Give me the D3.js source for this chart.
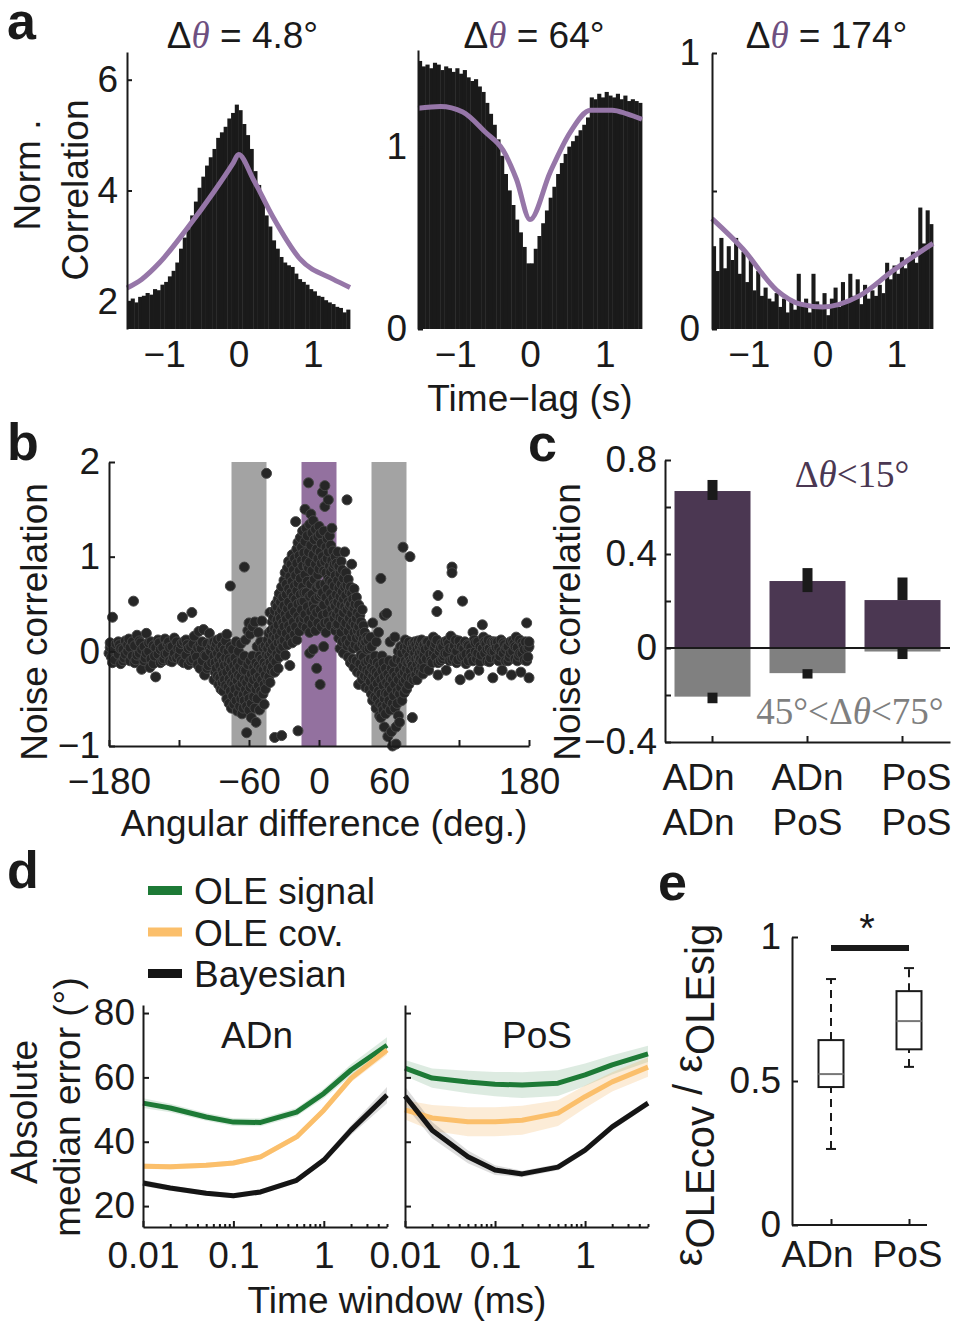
<!DOCTYPE html>
<html>
<head>
<meta charset="utf-8">
<script src="https://cdn.jsdelivr.net/npm/d3@7"></script>
<style>
  body { margin: 0; background: #fff; }
</style>
</head>
<body>
<svg id="fig"></svg>
<script>
// ---------- data ----------

// a: cross-correlograms, 60 bins of 0.05 s between -1.5 and 1.5 s
const ccg48 = [2.00, 2.05, 1.98, 2.08, 2.10, 2.15, 2.12, 2.22, 2.20, 2.30,
  2.35, 2.45, 2.55, 2.70, 2.95, 3.15, 3.30, 3.55, 3.80, 4.05,
  4.25, 4.45, 4.60, 4.75, 4.95, 5.05, 5.15, 5.30, 5.40, 5.55,
  5.45, 5.20, 5.00, 4.75, 4.35, 4.10, 3.85, 3.55, 3.35, 3.10,
  2.95, 2.80, 2.70, 2.65, 2.62, 2.50, 2.40, 2.35, 2.30, 2.22,
  2.18, 2.10, 2.08, 2.02, 1.98, 1.95, 1.90, 1.88, 1.80, 1.85]
const ccg64 = [1.47, 1.44, 1.45, 1.43, 1.46, 1.45, 1.42, 1.44, 1.43, 1.41,
  1.43, 1.40, 1.42, 1.38, 1.36, 1.37, 1.33, 1.30, 1.24, 1.18,
  1.12, 1.04, 0.95, 0.85, 0.76, 0.68, 0.60, 0.53, 0.45, 0.36,
  0.36, 0.44, 0.51, 0.58, 0.65, 0.72, 0.78, 0.85, 0.91, 0.96,
  1.00, 1.03, 1.06, 1.09, 1.12, 1.16, 1.27, 1.26, 1.29, 1.27,
  1.30, 1.28, 1.27, 1.29, 1.26, 1.28, 1.25, 1.26, 1.25, 1.24]
const ccg174 = [0.30, 0.21, 0.33, 0.22, 0.30, 0.25, 0.33, 0.20, 0.28, 0.17,
  0.26, 0.14, 0.21, 0.12, 0.15, 0.11, 0.10, 0.13, 0.08, 0.11,
  0.06, 0.10, 0.07, 0.20, 0.09, 0.11, 0.06, 0.20, 0.10, 0.08,
  0.13, 0.05, 0.11, 0.15, 0.08, 0.17, 0.10, 0.20, 0.12, 0.18,
  0.09, 0.16, 0.11, 0.14, 0.12, 0.16, 0.13, 0.24, 0.18, 0.23,
  0.20, 0.26, 0.22, 0.25, 0.28, 0.24, 0.44, 0.31, 0.43, 0.38]
const fit48 = [[-1.5, 2.24], [-1.3, 2.4], [-1.06, 2.7], [-0.7, 3.3], [-0.34, 3.96], [-0.07, 4.5],
  [0, 4.65], [0.2, 4.2], [0.46, 3.53], [0.83, 2.76], [1.27, 2.4], [1.5, 2.25]]
const fit64 = [[-1.5, 1.21], [-1.2, 1.22], [-0.9, 1.19], [-0.6, 1.08], [-0.36, 0.98], [-0.18, 0.82],
  [0, 0.6], [0.27, 0.86], [0.54, 1.08], [0.81, 1.2], [1.1, 1.2], [1.3, 1.18], [1.5, 1.15]]
const fit174 = [[-1.5, 0.40], [-1.08, 0.29], [-0.62, 0.14], [-0.3, 0.09], [0, 0.08],
  [0.5, 0.12], [0.95, 0.21], [1.5, 0.31]]
const ccgTitles = ["4.8°", "64°", "174°"]

// b: noise correlation of cell pairs, grouped by angular difference [deg, values]
const noiseCorrByAngle = [
  [-180,[-0.02]],[-179,[0.04,0.09]],[-178,[-0.06]],[-177,[0.36,-0.12]],[-176,[0.01]],[-175,[-0.09,0.02]],
  [-174,[0.08]],[-172,[-0.03,0.1]],[-171,[0.07]],[-170,[-0.13,0.03]],[-168,[0.02,-0.1]],[-167,[-0.07]],
  [-166,[0.11,-0.03]],[-164,[0.0,0.07]],[-163,[0.13]],[-162,[-0.1,0.04]],[-160,[-0.05,0.1]],[-159,[0.53]],
  [-158,[0.06,-0.12]],[-157,[-0.09]],[-156,[0.17,-0.04]],[-154,[-0.02,0.11]],[-153,[0.09]],[-152,[-0.19,0.02]],
  [-150,[0.05,-0.1]],[-149,[-0.07]],[-148,[0.19,-0.02]],[-146,[0.0,0.09]],[-145,[-0.17]],[-144,[0.1,-0.08]],
  [-142,[0.06,-0.13]],[-141,[-0.05]],[-140,[-0.27,0.04]],[-138,[-0.03,0.12]],[-137,[0.09]],[-136,[-0.12,0.02]],
  [-134,[0.04,-0.1]],[-133,[-0.08]],[-132,[0.13,-0.03]],[-130,[-0.02,0.08]],[-129,[0.1]],[-128,[-0.1,0.04]],
  [-126,[0.05,-0.11]],[-125,[-0.06]],[-124,[0.14,-0.02]],[-122,[-0.07,0.1]],[-121,[0.03]],[-120,[-0.05]],
  [-119,[0.02]],[-118,[-0.1,0.08]],[-117,[0.36]],[-116,[0.1,-0.12]],[-114,[-0.04,0.12]],[-113,[0.07]],
  [-112,[-0.14,0.03]],[-110,[0.05,-0.1]],[-109,[0.41]],[-108,[-0.08,0.08]],[-107,[0.16]],[-106,[-0.02]],
  [-105,[-0.06]],[-104,[0.04,-0.14]],[-103,[0.21]],[-102,[-0.18,0.07]],[-101,[0.03]],[-100,[-0.1,0.1]],
  [-99,[0.23]],[-98,[-0.25,-0.04]],[-97,[-0.05]],[-96,[0.08,-0.18]],[-95,[-0.15]],[-94,[0.19,0.02]],
  [-93,[0.0]],[-92,[-0.12,0.06]],[-91,[0.1]],
  [-90,[-0.3,-0.05,0.1]],[-89,[-0.12,0.04,-0.22]],[-88,[0.08,-0.18]],[-87,[-0.26,-0.02,0.12]],
  [-86,[-0.35,-0.09]],[-85,[-0.15,0.03,-0.28]],[-84,[-0.05,-0.4,0.14]],[-83,[-0.2,0.06,-0.33]],
  [-82,[-0.1,-0.42,-0.24]],[-81,[0.02,-0.3,-0.15]],[-80,[-0.36,-0.07,0.11]],[-79,[-0.22,-0.5,0.18]],
  [-78,[-0.13,-0.38,0.0]],[-77,[-0.29,-0.55,-0.08]],[-76,[0.69,-0.42,-0.18,0.05]],[-75,[-0.33,-0.1,-0.6]],
  [-74,[-0.24,-0.47,0.02]],[-73,[-0.15,-0.56,-0.35]],[-72,[-0.4,-0.07,-0.28]],[-71,[-0.52,-0.2,0.1]],
  [-70,[-0.31,-0.63,-0.12]],[-69,[-0.45,-0.25,0.0]],[-68,[-0.58,-0.16,-0.37]],[-67,[-0.27,-0.5,0.08]],
  [-66,[-0.66,-0.34,-0.1]],[-65,[-0.2,-0.46,-0.6]],[-64,[0.89,-0.3,-0.05,-0.52]],[-63,[-0.4,0.12,-0.2]],
  [-62,[-0.86,-0.33,-0.58]],[-61,[-0.14,-0.45,0.22]],[-60,[-0.28,0.3,-0.62,-0.5]],[-59,[-0.38,-0.1,0.18]],
  [-58,[-0.55,-0.24,-0.7]],[-57,[0.26,-0.35,-0.05]],[-56,[-0.48,-0.17,-0.3]],[-55,[0.31,-0.6,-0.22]],
  [-54,[-0.75,-0.12,-0.4]],[-53,[-0.28,0.05,-0.5]],[-52,[-0.36,0.2,-0.15]],[-51,[-0.62,-0.05,-0.26]],
  [-50,[-0.42,0.1,-0.18]],[-49,[0.32,-0.3,-0.08]],[-48,[-0.45,-0.2,0.04]],[-47,[-0.12,-0.35,-0.56]],
  [-46,[0.06,-0.25,-0.4]],[-45,[1.88,-0.15,-0.03]],
  [-44,[0.12,-0.31,0.03,-0.18]],[-43,[-0.05,0.19,-0.27]],[-42,[0.41,0.07,-0.12,-0.33]],[-41,[0.22,-0.02,-0.2]],
  [-40,[0.31,0.11,-0.16,0.02]],[-39,[-0.08,0.36,0.17]],[-38,[0.05,-0.91,0.43,-0.22,0.24]],[-37,[0.14,0.5,-0.11]],
  [-36,[0.33,-0.03,0.21,0.47]],[-35,[0.55,0.09,-0.18,0.28]],[-34,[0.4,0.16,0.61,-0.06]],[-33,[0.02,0.35,0.52]],
  [-32,[0.68,0.21,-0.89,0.44,0.1]],[-31,[0.3,0.57,0.05]],[-30,[0.75,0.12,0.48,0.26]],[-29,[0.39,0.83,-0.04]],
  [-28,[0.6,0.19,0.71,0.34]],[-27,[0.07,0.88,0.45]],[-26,[0.52,0.27,0.95,0.66]],[-25,[0.14,0.79,0.38,-0.15]],
  [-24,[0.62,0.92,0.23]],[-23,[0.47,1.02,0.09,0.74]],[-22,[0.31,0.58,0.86]],[-21,[0.98,0.18,0.69,0.42]],
  [-20,[1.37,0.55,0.8,0.26]],[-19,[0.12,0.93,0.64,1.08]],[-18,[-0.84,0.37,0.72,0.5,1.15]],[-17,[0.85,0.21,1.01]],
  [-16,[0.6,0.33,1.2,0.77]],[-15,[0.96,0.52,0.44,1.1]],[-14,[0.68,1.27,0.28,0.9]],[-13,[0.53,1.04,0.62,0.35]],
  [-12,[1.5,0.81,0.39,1.16]],[-11,[0.62,0.97,0.25,1.3]],[-10,[0.47,1.22,0.74,0.9]],[-9,[1.78,0.88,0.33,1.05]],
  [-8,[0.58,1.34,0.2,0.94,-0.02]],[-7,[1.45,0.71,0.42,1.12]],[-6,[0.29,0.85,1.25,0.6]],[-5,[1.02,0.5,0.02,1.38]],
  [-4,[0.76,0.45,1.18,0.36]],[-3,[0.92,0.55,1.29,0.22]],[-2,[0.41,1.08,0.67,-0.18]],[-1,[1.21,0.81,0.3,0.98]],
  [0,[0.58,1.32,0.7,0.87]],[1,[1.05,0.44,0.7,1.24,-0.35]],[2,[0.6,0.93,0.26,1.14]],[3,[1.68,0.62,1.0,0.38]],
  [4,[0.85,1.27,0.49,0.05]],[5,[1.53,1.75,0.71,0.95,0.3]],[6,[1.1,0.57,0.83,0.2]],[7,[0.4,1.19,0.66,0.98]],
  [8,[1.6,0.77,0.31,1.05]],[9,[0.52,0.9,1.22,0.75]],[10,[0.84,0.27,1.12,0.61]],[11,[1.3,0.45,0.73,0.96]],
  [12,[0.38,0.88,0.56,1.06]],[13,[0.69,0.5,0.92,0.35]],[14,[1.0,0.48,0.22,0.8]],[15,[0.6,0.93,0.28,0.39]],
  [16,[0.75,1.05,0.29,0.52]],[17,[0.14,0.67,0.9,0.43]],[18,[0.82,0.36,0.58,0.03]],[19,[0.49,0.95,0.2,0.71]],
  [20,[0.63,0.1,0.86,0.34]],[21,[0.41,0.77,-0.02,0.55]],[22,[1.05,0.26,0.68,0.47]],[23,[0.12,0.59,0.83,0.3]],
  [24,[1.6,0.44,0.7,0.06]],[25,[0.52,0.21,0.76,-0.06]],[26,[0.35,0.63,0.09,0.48]],[27,[0.68,-0.12,0.27,0.5]],
  [28,[0.92,0.4,0.15,0.61]],[29,[0.03,0.55,0.31,-0.08]],[30,[0.46,0.2,0.66,-0.17]],[31,[0.28,0.5,0.07]],
  [32,[0.57,-0.1,0.35,0.14]],[33,[0.22,-0.22,0.41]],[34,[0.49,0.04,-0.35,0.26]],[35,[0.16,0.38,-0.13]],
  [36,[0.31,-0.04,0.19,-0.24]],[37,[0.44,0.08,-0.3]],[38,[0.13,-0.17,0.27,-0.06]],[39,[-0.26,0.05,0.2]],
  [40,[-0.38,0.1,-0.12]],[41,[0.02,-0.2,0.15]],
  [42,[-0.1,0.12,-0.28]],[43,[-0.22,0.03,-0.4]],[44,[0.15,-0.32,-0.08]],[45,[-0.45,-0.17,0.05]],
  [46,[-0.26,0.3,-0.52]],[47,[-0.1,-0.38,-0.2]],[48,[-0.48,-0.05,-0.3]],[49,[-0.6,-0.22,0.1]],
  [50,[-0.34,-0.12,-0.5]],[51,[0.2,-0.42,-0.25]],[52,[-0.55,-0.15,-0.68]],[53,[0.77,-0.3,-0.7,-0.45]],
  [54,[-0.2,-0.58,-0.05]],[55,[-0.36,-0.62,-0.12]],[56,[0.38,-0.8,-0.27,-0.5]],[57,[-0.44,-0.18,-0.66]],
  [58,[0.4,-0.33,-0.57]],[59,[-0.9,-0.24,-0.45]],[60,[-0.52,-0.1,-0.36]],[61,[0.1,-0.62,-0.28]],
  [62,[-0.85,-0.4,-0.18]],[63,[-1.0,-0.3,-0.55]],[64,[-0.12,-0.47,-0.22]],[65,[0.15,-0.6,-0.35]],
  [66,[-0.98,-0.26,-0.8]],[67,[-0.42,-0.08,-0.55]],[68,[-0.3,-0.68,0.0]],[69,[-0.75,-0.2,-0.45]],
  [70,[-0.1,-0.38,0.05]],[71,[-0.52,-0.25,-0.02]],[72,[1.1,-0.15,-0.33]],[73,[-0.44,0.04,-0.22]],
  [74,[-0.1,-0.3,0.12]],[75,[-0.4,-0.18,0.0]],[76,[-0.26,0.06,-0.12]],[77,[-0.35,-0.05,0.1]],
  [78,[1.0,-0.2,-0.1]],[79,[-0.28,0.02,-0.12]],[80,[-0.7,-0.15,0.08]],[81,[-0.06,-0.3,0.04]],
  [82,[-0.18,0.1,-0.02]],[83,[-0.25,-0.08,0.07]],[84,[0.02,-0.14,-0.3]],[85,[0.11,-0.06,-0.2]],
  [86,[-0.1,0.05,-0.02]],[87,[-0.22,0.09,-0.08]],[88,[0.0,-0.16,0.12]],[89,[-0.1,0.04,-0.24]],
  [90,[0.07,-0.18,-0.04]],
  [91,[0.02]],[92,[-0.08,0.1]],[93,[0.1]],[94,[-0.2,0.04]],[95,[-0.03]],[96,[0.08,-0.1]],[97,[-0.12]],
  [98,[0.15,-0.02]],[99,[0.04]],[100,[-0.06,0.08]],[101,[0.42,0.12]],[102,[0.59,-0.25,-0.12]],[103,[0.0]],
  [104,[-0.1,0.04]],[105,[0.08]],[106,[0.05,-0.08]],[107,[-0.05]],[108,[0.1,-0.02]],[109,[-0.2]],
  [110,[-0.02,0.11]],[111,[0.08]],[112,[-0.1,0.03]],[113,[0.16]],[114,[0.89,0.83,-0.09]],[115,[0.03]],
  [116,[-0.07,0.06]],[117,[0.12]],[118,[0.0,-0.12]],[119,[-0.09]],[120,[0.06,0.11]],[121,[-0.3]],
  [122,[0.05,-0.06]],[123,[0.53]],[124,[-0.05,0.03]],[125,[0.1]],[126,[-0.03,-0.13]],[127,[0.07]],
  [128,[-0.1,0.06]],[129,[-0.25]],[130,[0.04,-0.02]],[131,[-0.06]],[132,[0.2,-0.1]],[133,[0.12]],
  [134,[0.0,0.09]],[135,[-0.08]],[136,[0.1,-0.02]],[137,[-0.2]],[138,[0.05,-0.11]],[139,[-0.04]],
  [140,[0.28,0.03]],[141,[0.15]],[142,[-0.02,0.1]],[143,[0.08]],[144,[-0.1,0.02]],[145,[0.12]],
  [146,[0.03,-0.11]],[147,[-0.07]],[148,[0.1,0.0]],[149,[-0.28]],[150,[0.0,0.1]],[151,[0.09]],
  [152,[-0.08,0.04]],[153,[0.1]],[154,[0.04,-0.1]],[155,[-0.05]],[156,[0.12,0.0]],[157,[-0.2]],
  [158,[-0.02,0.09]],[159,[0.07]],[160,[-0.1,0.02]],[161,[0.05]],[162,[0.05,-0.1]],[163,[-0.06]],
  [164,[0.1,-0.02]],[165,[-0.25]],[166,[0.0,0.11]],[167,[0.08]],[168,[-0.08,0.05]],[169,[0.15]],
  [170,[0.04,-0.1]],[171,[-0.05]],[172,[0.12,-0.02]],[173,[-0.22]],[174,[-0.02,0.09]],[175,[0.06]],
  [176,[-0.09,0.02]],[177,[0.1]],[178,[0.3,-0.1]],[179,[0.03,-0.06]],[180,[0.05,-0.28,0.1]]
]
const nearBand = [-15, 15]
const farBands = [[-75, -45], [45, 75]]

// c: mean noise correlation per pair type
const pairTop = ["ADn", "ADn", "PoS"]
const pairBottom = ["ADn", "PoS", "PoS"]
const nearMean = [0.668, 0.285, 0.204]
const nearErr = [[0.63, 0.715], [0.238, 0.34], [0.204, 0.30]]
const farMean = [-0.207, -0.107, -0.015]
const farErr = [[-0.235, -0.19], [-0.13, -0.09], [-0.047, 0.0]]

// d: decoding error vs time window
const windows = [0.01, 0.02, 0.05, 0.1, 0.2, 0.5, 1, 2, 5]
const adnSignal = [52.0, 50.5, 47.7, 46.1, 46.0, 49.2, 55.0, 62.3, 70.0]
const adnSignalSem = [1.5, 1.3, 1.2, 1.2, 1.2, 1.3, 1.5, 1.8, 2.5]
const adnCov = [32.4, 32.2, 32.7, 33.4, 35.3, 41.5, 49.8, 59.7, 68.5]
const adnCovSem = [0.8, 0.8, 0.8, 0.8, 0.8, 0.8, 1.0, 1.2, 1.5]
const adnBayes = [27.2, 25.6, 24.0, 23.2, 24.4, 28.0, 34.3, 43.6, 54.5]
const adnBayesSem = [1.0, 0.8, 0.8, 0.8, 0.8, 0.8, 1.0, 1.5, 2.5]
const posSignal = [62.9, 59.8, 58.6, 57.9, 57.6, 58.2, 60.8, 63.9, 67.3]
const posSignalSem = [2.5, 3.0, 3.5, 3.8, 4.0, 4.0, 3.5, 3.0, 2.5]
const posCov = [49.9, 47.4, 46.2, 46.2, 46.7, 48.9, 54.0, 58.6, 63.2]
const posCovSem = [3.0, 4.0, 4.5, 4.5, 4.5, 4.0, 3.5, 3.0, 3.0]
const posBayes = [54.2, 43.6, 35.3, 31.2, 30.0, 32.1, 37.4, 44.6, 52.0]
const posBayesSem = [3.0, 2.5, 2.0, 1.5, 1.0, 1.0, 1.0, 1.0, 1.0]
const decoderNames = ["OLE signal", "OLE cov.", "Bayesian"]

// e: error ratio boxplots [whisker lo, q1, median, q3, whisker hi]
const ratioCats = ["ADn", "PoS"]
const adnRatio = [0.264, 0.479, 0.524, 0.642, 0.854]
const posRatio = [0.549, 0.61, 0.708, 0.812, 0.892]

// ---------- drawing ----------

const width = 960
const height = 1321
const FS = 37
const ink = "#1a1a1a"
const sans = "'Liberation Sans', Arial, sans-serif"
const serif = "'Liberation Serif', 'Times New Roman', serif"
const fitPurple = "#9676a8"
const colors = ["#1d7a36", "#fbbf6b", "#151515"]
const fmt = d3.format("")

const svg = d3.select("#fig")
    .attr("width", width)
    .attr("height", height)
    .style("font-family", sans)
svg.append("rect")
    .attr("width", width)
    .attr("height", height)
    .attr("fill", "#fff")

function styleAxis(g, noDomain) {
  g.attr("font-size", FS).attr("font-family", sans)
  g.selectAll(".domain").attr("stroke", ink).attr("stroke-width", 2)
  if (noDomain) g.select(".domain").remove()
  g.selectAll(".tick line").attr("stroke", ink).attr("stroke-width", 2)
  g.selectAll(".tick text").attr("fill", ink)
}

function vLabel(x, y, str, size) {
  return svg.append("text")
      .attr("transform", `translate(${x},${y}) rotate(-90)`)
      .attr("text-anchor", "middle")
      .attr("font-size", size || FS)
      .attr("fill", ink)
      .text(str)
}

function hLabel(x, y, str) {
  return svg.append("text")
      .attr("x", x).attr("y", y)
      .attr("text-anchor", "middle")
      .attr("font-size", FS)
      .attr("fill", ink)
      .text(str)
}

function panelLetter(letter, x, y) {
  svg.append("text")
      .attr("x", x).attr("y", y)
      .attr("font-size", 52)
      .attr("font-weight", "bold")
      .attr("fill", ink)
      .text(letter)
}

// ----- a -----
panelLetter("a", 7, 39)
const lagEdges = d3.range(60).map(i => -1.5 + i * 0.05)
const ccgPanels = [
  {bars: ccg48, fit: fit48, yDomain: [1.5, 6.5], yTicks: [2, 4, 6], left: 127, right: 350, top: 52, pad: 9},
  {bars: ccg64, fit: fit64, yDomain: [0, 1.53], yTicks: [0, 1], left: 418, right: 642, top: 50, pad: 11},
  {bars: ccg174, fit: fit174, yDomain: [0, 1], yTicks: [0, 0.5, 1], left: 712, right: 933, top: 53, pad: 12},
]
const aBottom = 329

ccgPanels.forEach((p, k) => {
  const xScale = d3.scaleLinear().domain([-1.5, 1.5]).range([p.left, p.right])
  const yScale = d3.scaleLinear().domain(p.yDomain).range([aBottom, p.top])
  const g = svg.append("g")
  const binW = xScale(lagEdges[1]) - xScale(lagEdges[0])

  g.selectAll("rect")
    .data(p.bars)
    .join("rect")
      .attr("x", (d, i) => xScale(lagEdges[i]))
      .attr("width", binW + 0.4)
      .attr("y", d => yScale(d))
      .attr("height", d => yScale(p.yDomain[0]) - yScale(d))
      .attr("fill", ink)

  const line = d3.line()
      .x(d => xScale(d[0]))
      .y(d => yScale(d[1]))
      .curve(d3.curveMonotoneX)
  g.append("path")
      .attr("d", line(p.fit))
      .attr("fill", "none")
      .attr("stroke", fitPurple)
      .attr("stroke-width", 5)

  const yAxis = g.append("g")
      .attr("transform", `translate(${p.left},0)`)
      .call(d3.axisLeft(yScale).tickValues(p.yTicks).tickSize(-5).tickSizeOuter(0)
        .tickPadding(p.pad).tickFormat(d => d === 0.5 ? "" : fmt(d)))
  styleAxis(yAxis)

  const xAxis = g.append("g")
      .attr("transform", `translate(0,${aBottom})`)
      .call(d3.axisBottom(xScale).tickValues([-1, 0, 1]).tickSize(0).tickPadding(12).tickFormat(fmt))
  styleAxis(xAxis, true)

  const title = svg.append("text")
      .attr("x", (p.left + p.right) / 2 + 4)
      .attr("y", 48)
      .attr("text-anchor", "middle")
      .attr("font-size", FS)
      .attr("fill", ink)
  title.append("tspan").text("Δ")
  title.append("tspan")
      .attr("font-family", serif)
      .attr("font-style", "italic")
      .attr("fill", "#6e4f80")
      .text("θ")
  title.append("tspan").text(" = " + ccgTitles[k])
})
vLabel(40, 175, "Norm .")
vLabel(88, 190, "Correlation")
hLabel(530, 411, "Time−lag (s)")

// ----- b -----
panelLetter("b", 7, 460)
const noiseCorr = noiseCorrByAngle.flatMap(([deg, vals]) => vals.map(v => [deg, v]))
const bx = d3.scaleLinear().domain([-180, 180]).range([109, 529])
const by = d3.scaleLinear().domain([-1, 2]).range([746, 462])
const bBounds = svg.append("g")

bBounds.selectAll("rect.far")
  .data(farBands)
  .join("rect")
    .attr("x", d => bx(d[0]))
    .attr("width", d => bx(d[1]) - bx(d[0]))
    .attr("y", by(2))
    .attr("height", by(-1) - by(2))
    .attr("fill", "#a3a3a3")
bBounds.append("rect")
    .attr("x", bx(nearBand[0]))
    .attr("width", bx(nearBand[1]) - bx(nearBand[0]))
    .attr("y", by(2))
    .attr("height", by(-1) - by(2))
    .attr("fill", "#93719f")

bBounds.selectAll("circle")
  .data(noiseCorr)
  .join("circle")
    .attr("cx", d => bx(d[0]))
    .attr("cy", d => by(d[1]))
    .attr("r", 5)
    .attr("fill", "#262626")
    .attr("stroke", "#454545")
    .attr("stroke-width", 1)

const bxAxis = bBounds.append("g")
    .attr("transform", `translate(0,${by(-1)})`)
    .call(d3.axisBottom(bx).tickValues([-180, -120, -60, 0, 60, 120, 180]).tickSize(-6)
      .tickSizeOuter(0).tickPadding(22).tickFormat(d => Math.abs(d) === 120 ? "" : fmt(d)))
styleAxis(bxAxis)
const byAxis = bBounds.append("g")
    .attr("transform", `translate(${bx(-180)},0)`)
    .call(d3.axisLeft(by).tickValues([-1, 0, 1, 2]).tickSize(-6).tickSizeOuter(0)
      .tickPadding(9).tickFormat(fmt))
styleAxis(byAxis)
vLabel(47, 622, "Noise correlation")
hLabel(324, 836, "Angular difference (deg.)")

// ----- c -----
panelLetter("c", 528, 461)
const cx = d3.scaleBand().domain(d3.range(3)).range([665, 950]).paddingInner(0.2).paddingOuter(0.1)
const cy = d3.scaleLinear().domain([-0.4, 0.8]).range([742, 460])
const cBounds = svg.append("g")

cBounds.selectAll("rect.far")
  .data(farMean)
  .join("rect")
    .attr("x", (d, i) => cx(i))
    .attr("width", cx.bandwidth())
    .attr("y", cy(0))
    .attr("height", d => cy(d) - cy(0))
    .attr("fill", "#808080")
cBounds.selectAll("rect.near")
  .data(nearMean)
  .join("rect")
    .attr("x", (d, i) => cx(i))
    .attr("width", cx.bandwidth())
    .attr("y", d => cy(d))
    .attr("height", d => cy(0) - cy(d))
    .attr("fill", "#4b3752")
cBounds.selectAll("rect.err")
  .data(nearErr.concat(farErr))
  .join("rect")
    .attr("x", (d, i) => cx(i % 3) + cx.bandwidth() / 2 - 5)
    .attr("width", 10)
    .attr("y", d => cy(d[1]))
    .attr("height", d => cy(d[0]) - cy(d[1]))
    .attr("fill", ink)
cBounds.append("line")
    .attr("x1", 665).attr("x2", 950)
    .attr("y1", cy(0)).attr("y2", cy(0))
    .attr("stroke", ink).attr("stroke-width", 2)

const cxAxis = cBounds.append("g")
    .attr("transform", `translate(0,${cy(-0.4)})`)
    .call(d3.axisBottom(cx).tickSize(-6).tickSizeOuter(0).tickFormat(""))
styleAxis(cxAxis)
const cyAxis = cBounds.append("g")
    .attr("transform", "translate(665,0)")
    .call(d3.axisLeft(cy).tickValues([-0.4, -0.2, 0, 0.2, 0.4, 0.6, 0.8]).tickSize(-6)
      .tickSizeOuter(0).tickPadding(8)
      .tickFormat(d => Math.abs(d * 10) % 4 > 0.01 ? "" : fmt(d)))
styleAxis(cyAxis)
const catShift = [-14, 0, 14]
;[pairTop, pairBottom].forEach((row, r) => {
  cBounds.selectAll(null)
    .data(row)
    .join("text")
      .attr("x", (d, i) => cx(i) + cx.bandwidth() / 2 + catShift[i])
      .attr("y", 790 + r * 45)
      .attr("text-anchor", "middle")
      .attr("font-size", FS)
      .attr("fill", ink)
      .text(d => d)
})
vLabel(580, 622, "Noise correlation")

const nearText = svg.append("text")
    .attr("x", 852).attr("y", 487)
    .attr("text-anchor", "middle")
    .attr("font-family", serif)
    .attr("font-size", FS)
    .attr("fill", "#4b3752")
nearText.append("tspan").text("Δ")
nearText.append("tspan").attr("font-style", "italic").text("θ")
nearText.append("tspan").text("<15°")
const farText = svg.append("text")
    .attr("x", 850).attr("y", 724)
    .attr("text-anchor", "middle")
    .attr("font-family", serif)
    .attr("font-size", FS)
    .attr("fill", "#7f7f7f")
farText.append("tspan").text("45°<Δ")
farText.append("tspan").attr("font-style", "italic").text("θ")
farText.append("tspan").text("<75°")

// ----- d -----
panelLetter("d", 7, 888)
const dy = d3.scaleLinear().domain([13.5, 82.5]).range([1227, 1005])
const dPanels = [
  {name: "ADn", left: 143, right: 387,
   series: [[adnSignal, adnSignalSem], [adnCov, adnCovSem], [adnBayes, adnBayesSem]]},
  {name: "PoS", left: 405, right: 648,
   series: [[posSignal, posSignalSem], [posCov, posCovSem], [posBayes, posBayesSem]]},
]
const bandOpacity = [0.15, 0.25, 0.2]
const bandColor = ["#1d7a36", "#f2b35e", "#555"]

dPanels.forEach((p, k) => {
  const dx = d3.scaleLog().domain([0.01, 5]).range([p.left, p.right])
  const g = svg.append("g")

  p.series.forEach(([mean, sem], s) => {
    const area = d3.area()
        .x((d, i) => dx(windows[i]))
        .y0((d, i) => dy(d - sem[i]))
        .y1((d, i) => dy(d + sem[i]))
    g.append("path")
        .attr("d", area(mean))
        .attr("fill", bandColor[s])
        .attr("fill-opacity", bandOpacity[s])
  })
  p.series.forEach(([mean], s) => {
    const line = d3.line()
        .x((d, i) => dx(windows[i]))
        .y(d => dy(d))
    g.append("path")
        .attr("d", line(mean))
        .attr("fill", "none")
        .attr("stroke", colors[s])
        .attr("stroke-width", 5)
        .attr("stroke-linejoin", "round")
  })

  const xMajor = g.append("g")
      .attr("transform", `translate(0,${dy.range()[0]})`)
      .call(d3.axisBottom(dx).tickValues([0.01, 0.1, 1]).tickSize(-6).tickSizeOuter(0)
        .tickPadding(15).tickFormat(fmt))
  styleAxis(xMajor)
  const xMinor = g.append("g")
      .attr("transform", `translate(0,${dy.range()[0]})`)
      .call(d3.axisBottom(dx).tickValues([0.02, 0.03, 0.04, 0.05, 0.06, 0.07, 0.08, 0.09,
        0.2, 0.3, 0.4, 0.5, 0.6, 0.7, 0.8, 0.9, 2, 3, 4, 5]).tickSize(-3).tickSizeOuter(0).tickFormat(""))
  styleAxis(xMinor, true)
  const yAxis = g.append("g")
      .attr("transform", `translate(${p.left},0)`)
      .call(d3.axisLeft(dy).tickValues([20, 40, 60, 80]).tickSize(-6).tickSizeOuter(0)
        .tickPadding(8).tickFormat(k === 0 ? fmt : ""))
  styleAxis(yAxis)

  hLabel(k === 0 ? 257 : 537, 1048, p.name)
})
vLabel(37, 1112, "Absolute")
vLabel(80, 1107, "median error (°)")
hLabel(397, 1313, "Time window (ms)")

const legend = svg.append("g")
legend.selectAll("rect")
  .data(decoderNames)
  .join("rect")
    .attr("x", 148).attr("width", 34)
    .attr("y", (d, i) => 886 + i * 41.5)
    .attr("height", 9)
    .attr("fill", (d, i) => colors[i])
legend.selectAll("text")
  .data(decoderNames)
  .join("text")
    .attr("x", 194)
    .attr("y", (d, i) => 904 + i * 41.5)
    .attr("font-size", FS)
    .attr("fill", ink)
    .text(d => d)

// ----- e -----
panelLetter("e", 658, 900)
const ex = d3.scalePoint().domain(ratioCats).range([831, 909])
const ey = d3.scaleLinear().domain([0, 1]).range([1225, 937])
const eBounds = svg.append("g")
const boxW = 25

;[adnRatio, posRatio].forEach((b, i) => {
  const c = ex(ratioCats[i])
  const g = eBounds.append("g")
  g.selectAll("line.wh")
    .data([[b[0], b[1]], [b[3], b[4]]])
    .join("line")
      .attr("x1", c).attr("x2", c)
      .attr("y1", d => ey(d[0])).attr("y2", d => ey(d[1]))
      .attr("stroke", ink).attr("stroke-width", 2)
      .attr("stroke-dasharray", "8,6")
  g.selectAll("line.cap")
    .data([b[0], b[4]])
    .join("line")
      .attr("x1", c - 5).attr("x2", c + 5)
      .attr("y1", d => ey(d)).attr("y2", d => ey(d))
      .attr("stroke", ink).attr("stroke-width", 2)
  g.append("rect")
      .attr("x", c - boxW / 2).attr("width", boxW)
      .attr("y", ey(b[3])).attr("height", ey(b[1]) - ey(b[3]))
      .attr("fill", "#fff")
      .attr("stroke", ink).attr("stroke-width", 2)
  g.append("line")
      .attr("x1", c - boxW / 2).attr("x2", c + boxW / 2)
      .attr("y1", ey(b[2])).attr("y2", ey(b[2]))
      .attr("stroke", "#777").attr("stroke-width", 2)
})

const exAxis = eBounds.append("g")
    .attr("transform", `translate(0,${ey(0)})`)
    .call(d3.axisBottom(ex).tickSize(-6).tickSizeOuter(0).tickPadding(16))
exAxis.select(".domain").attr("d", "M792,0H927")
styleAxis(exAxis)
exAxis.selectAll(".tick text").attr("dx", (d, i) => i === 0 ? -14 : -2)
const eyAxis = eBounds.append("g")
    .attr("transform", "translate(792,0)")
    .call(d3.axisLeft(ey).tickValues([0, 0.5, 1]).tickSize(-6).tickSizeOuter(0)
      .tickPadding(11).tickFormat(fmt))
styleAxis(eyAxis)

eBounds.append("line")
    .attr("x1", ex("ADn")).attr("x2", ex("PoS"))
    .attr("y1", 948).attr("y2", 948)
    .attr("stroke", ink).attr("stroke-width", 6)
svg.append("text")
    .attr("x", 867).attr("y", 942)
    .attr("text-anchor", "middle")
    .attr("font-size", 40)
    .attr("fill", ink)
    .text("*")

const eLabel = svg.append("text")
    .attr("transform", "translate(702,1095) rotate(-90)")
    .attr("text-anchor", "middle")
    .attr("font-size", 40)
    .attr("fill", ink)
eLabel.append("tspan").text("ε")
eLabel.append("tspan").attr("dy", 12).text("OLEcov")
eLabel.append("tspan").attr("dy", -12).text(" / ε")
eLabel.append("tspan").attr("dy", 12).text("OLEsig")
</script>
</body>
</html>
